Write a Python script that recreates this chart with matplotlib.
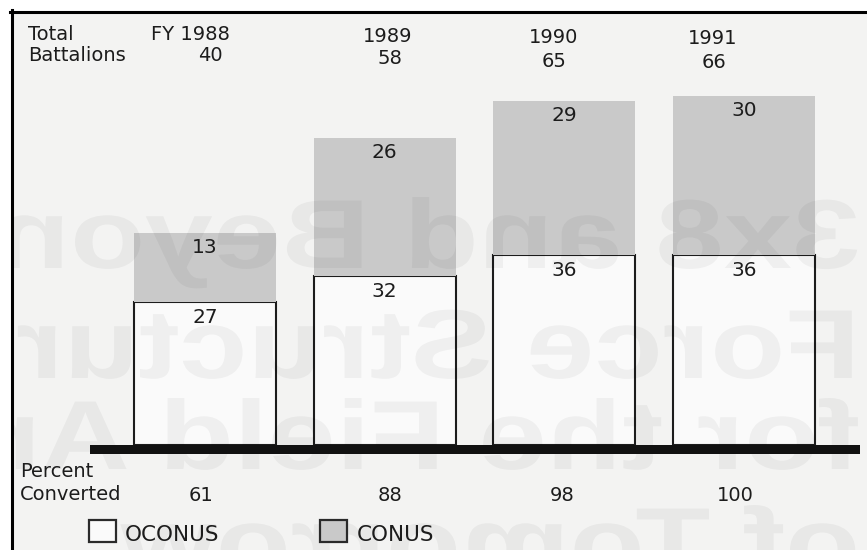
import matplotlib
matplotlib.use("Agg")
import matplotlib.pyplot as plt
from matplotlib.patches import Rectangle, PathPatch
from matplotlib.lines import Line2D
from matplotlib.textpath import TextPath
from matplotlib.font_manager import FontProperties
from matplotlib.transforms import Affine2D

# data
years = ["FY 1988", "1989", "1990", "1991"]
total_battalions = [40, 58, 65, 66]
oconus = [27, 32, 36, 36]
conus = [13, 26, 29, 30]
percent_converted = [61, 88, 98, 100]
watermark_lines = ["3x8 and Beyond", "Force Structure", "for the Field Artillery", "of Tomorrow"]

W, H = 867, 550
BG = "#f3f3f2"
GRAY = "#c9c9c9"
INK = "#1c1c1c"


def fx(px):
    return px / W


def fy(py):
    return 1 - py / H


fig = plt.figure(figsize=(W / 100, H / 100), dpi=100)
fig.patch.set_facecolor("white")

# paper background and the scan frame (top and left edges only)
paper = Rectangle((fx(13), 0), 1 - fx(13), fy(13), transform=fig.transFigure,
                  facecolor=BG, edgecolor="none", zorder=0)
fig.add_artist(paper)
fig.add_artist(Line2D([fx(10), 1], [fy(11.5), fy(11.5)], transform=fig.transFigure,
                      color="black", lw=2.2, zorder=0.5))
fig.add_artist(Line2D([fx(11.5), fx(11.5)], [fy(10), 0], transform=fig.transFigure,
                      color="black", lw=2.2, zorder=0.5))

# bar axes: y=0 sits on the thick base line, ~5.29 px per battalion
ax = fig.add_axes([0, 0, 1, 1], zorder=1)
ax.patch.set_alpha(0)
ax.set_axis_off()
ax.set_xlim(-1.141, 3.684)
ax.set_ylim(-19.85, 84.12)

x = list(range(len(years)))
ax.bar(x, oconus, width=0.79, color="#fafafa", edgecolor=INK, linewidth=1.5, zorder=1)
ax.bar(x, conus, bottom=oconus, width=0.79, color=GRAY, linewidth=0, zorder=1)

for i in x:
    ax.annotate(str(oconus[i]), xy=(i, oconus[i]), xytext=(0, -11.3),
                textcoords="offset points", ha="center", va="center",
                fontsize=14.5, color=INK, zorder=4)
    ax.annotate(str(conus[i]), xy=(i, oconus[i] + conus[i]), xytext=(0, -10.5),
                textcoords="offset points", ha="center", va="center",
                fontsize=14.5, color=INK, zorder=4)

# show-through of the reverse page: mirrored, stretched bold text
wm_font = FontProperties(family="Liberation Sans", weight="bold")
wm_base = [268, 378, 469, 576]
for line, base in zip(watermark_lines, wm_base):
    tp = TextPath((0, 0), line, size=98, prop=wm_font)
    tr = Affine2D().scale(-1.25 / W, 1 / H).translate(fx(860), fy(base)) + fig.transFigure
    pp = PathPatch(tp, transform=tr, facecolor="black", edgecolor="none",
                   alpha=0.045, zorder=2)
    ax.add_patch(pp)
    pp.set_clip_path(paper)

# thick base line
fig.add_artist(Rectangle((fx(90), fy(454)), fx(860) - fx(90), fy(445) - fy(454),
                         transform=fig.transFigure, facecolor="#111111",
                         edgecolor="none", zorder=3))

# header rows
fs = 14
fig.text(fx(28), fy(40), "Total", fontsize=fs, color=INK, va="baseline")
fig.text(fx(28), fy(61), "Battalions", fontsize=fs, color=INK, va="baseline")
year_x = [190, 388, 554, 713]
year_y = [40, 42, 43, 44]
tot_x = [210, 390, 554, 714]
tot_y = [61, 64, 67, 68]
for i in x:
    fig.text(fx(year_x[i]), fy(year_y[i]), years[i], fontsize=fs, color=INK,
             ha="center", va="baseline")
    fig.text(fx(tot_x[i]), fy(tot_y[i]), str(total_battalions[i]), fontsize=fs,
             color=INK, ha="center", va="baseline")

# percent converted row
fig.text(fx(20), fy(477), "Percent", fontsize=fs, color=INK, va="baseline")
fig.text(fx(20), fy(500), "Converted", fontsize=fs, color=INK, va="baseline")
pct_x = [201, 390, 562, 735]
for i in x:
    fig.text(fx(pct_x[i]), fy(501), str(percent_converted[i]), fontsize=fs,
             color=INK, ha="center", va="baseline")

# legend
for bx, fc, label, tx in [(89, "#fafafa", "OCONUS", 125), (320, GRAY, "CONUS", 357)]:
    fig.add_artist(Rectangle((fx(bx), fy(542)), fx(27), fy(520) - fy(542),
                             transform=fig.transFigure, facecolor=fc,
                             edgecolor="#2a2a2a", lw=1.6, zorder=3))
    fig.text(fx(tx), fy(541), label, fontsize=15.5, color=INK, va="baseline")

fig.savefig("out.png", dpi=100)
